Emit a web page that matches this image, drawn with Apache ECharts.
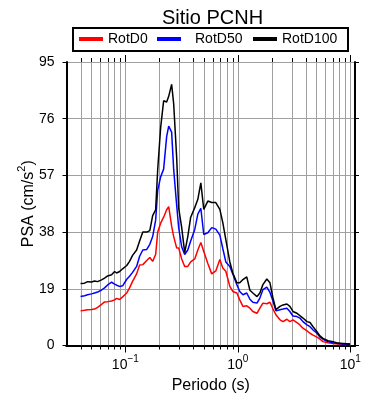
<!DOCTYPE html>
<html>
<head>
<meta charset="utf-8">
<script src="https://cdn.jsdelivr.net/npm/echarts@6/dist/echarts.min.js"></script>
<style>
  html, body { margin: 0; padding: 0; background: #fff; }
  #chart { width: 390px; height: 400px; }
</style>
</head>
<body>
<div id="chart"></div>
<script>
// periodos (s)
const periods = [0.040, 0.0434, 0.0462, 0.0501, 0.0533, 0.0567, 0.0615, 0.0654, 0.0696, 0.0755,
  0.0803, 0.0837, 0.0890, 0.0946, 0.103, 0.109, 0.116, 0.126, 0.134, 0.143,
  0.155, 0.165, 0.175, 0.186, 0.194, 0.206, 0.219, 0.233, 0.243, 0.258,
  0.269, 0.286, 0.298, 0.317, 0.337, 0.359, 0.381, 0.414, 0.441, 0.469,
  0.498, 0.541, 0.586, 0.637, 0.692, 0.735, 0.782, 0.849, 0.902, 0.980,
  1.04, 1.11, 1.20, 1.28, 1.36, 1.48, 1.57, 1.67, 1.81, 1.93,
  2.05, 2.18, 2.37, 2.52, 2.73, 2.90, 3.09, 3.35, 3.56, 3.79,
  4.12, 4.38, 4.66, 5.05, 5.37, 5.71, 6.33, 7.02, 7.78, 8.62,
  9.95];

const rotD0 = [11.6, 11.8, 12.0, 12.1, 12.2, 12.8, 13.8, 14.6, 14.7, 14.9,
  15.3, 15.8, 15.4, 16.3, 17.6, 19.3, 21.5, 24.0, 27.0, 27.1,
  28.5, 29.5, 28.2, 30.5, 38.0, 41.0, 43.0, 45.5, 46.5, 40.0,
  36.5, 32.7, 32.7, 29.0, 26.5, 26.5, 28.0, 29.0, 32.0, 34.5,
  31.5, 27.5, 24.0, 25.0, 28.8, 26.0, 24.9, 19.8, 18.1, 17.6,
  15.3, 13.1, 13.3, 12.5, 11.4, 10.8, 12.5, 14.2, 14.0, 14.5,
  12.3, 10.3, 8.6, 8.0, 8.8, 8.0, 8.6, 7.7, 6.9, 5.8,
  4.9, 4.1, 3.5, 2.8, 2.1, 1.3, 0.9, 0.7, 0.5, 0.4,
  0.3];

const rotD50 = [16.4, 16.7, 17.0, 17.3, 17.6, 17.9, 18.6, 19.3, 20.3, 21.2,
  20.6, 20.2, 19.8, 20.0, 22.2, 23.2, 24.5, 26.5, 29.9, 32.0,
  32.2, 33.9, 36.5, 42.0, 52.0, 56.5, 59.1, 70.0, 73.5, 71.5,
  59.0, 47.0, 39.5, 33.0, 30.5, 32.0, 35.0, 38.9, 44.0, 46.0,
  37.2, 37.8, 39.5, 39.0, 37.0, 32.5, 28.0, 26.5, 24.0, 20.4,
  18.1, 17.0, 17.6, 15.5, 14.5, 14.2, 15.9, 18.7, 19.6, 17.8,
  15.0, 11.6, 12.0, 12.2, 12.5, 11.4, 9.9, 9.7, 9.2, 8.0,
  6.9, 6.3, 5.2, 4.1, 2.8, 2.1, 1.3, 0.9, 0.7, 0.5,
  0.4];

const rotD100 = [20.8, 20.9, 21.4, 21.3, 21.6, 21.4, 22.0, 22.6, 23.3, 23.7,
  24.8, 24.3, 24.8, 25.7, 26.8, 28.2, 30.2, 32.0, 35.0, 38.0,
  38.0, 38.5, 43.5, 45.5, 59.0, 73.0, 82.0, 81.6, 83.5, 87.5,
  81.0, 63.0, 46.0, 39.5, 31.1, 36.5, 43.0, 46.2, 49.0, 54.5,
  45.6, 48.4, 47.9, 47.9, 45.6, 41.2, 35.5, 28.0, 24.3, 21.0,
  21.0, 22.1, 23.0, 18.5, 17.6, 16.4, 17.6, 20.4, 22.3, 21.0,
  16.0, 12.0, 13.1, 13.6, 13.9, 13.1, 11.4, 10.8, 10.0, 9.2,
  8.0, 7.7, 6.3, 4.6, 3.2, 2.4, 1.6, 1.3, 0.8, 0.7,
  0.5];

// lineas verticales de la grilla logaritmica
const gridX = [0.04, 0.05, 0.06, 0.07, 0.08, 0.09,
  0.1, 0.2, 0.3, 0.4, 0.5, 0.6, 0.7, 0.8, 0.9,
  1, 2, 3, 4, 5, 6, 7, 8, 9, 10];

const yTicks = [0, 19, 38, 57, 76, 95];

const FONT = 'Liberation Sans';

function isDecade(v) {
  const l = Math.log10(v);
  return Math.abs(l - Math.round(l)) < 1e-6;
}

function pairs(ys) {
  return periods.map((p, i) => [p, ys[i]]);
}

let chart = echarts.init(document.getElementById('chart'));

const legendBase = {
  top: 32,
  padding: 0,
  icon: 'rect',
  itemWidth: 24,
  itemHeight: 4,
  itemGap: 5,
  selectedMode: false,
  textStyle: { fontFamily: FONT, fontSize: 14, color: '#000' }
};

let option = {
  animation: false,
  backgroundColor: '#fff',
  title: {
    text: 'Sitio PCNH',
    left: 157,
    top: 3,
    textStyle: { fontFamily: FONT, fontSize: 20, fontWeight: 'normal', color: '#000' }
  },
  graphic: [{
    type: 'rect',
    z: -1,
    shape: { x: 73, y: 28, width: 275, height: 23 },
    style: { fill: '#fff', stroke: '#000', lineWidth: 2 }
  }],
  legend: [
    Object.assign({}, legendBase, { left: 79, data: ['RotD0'] }),
    Object.assign({}, legendBase, { left: 157, data: ['RotD50'], textStyle: { fontFamily: FONT, fontSize: 14, color: '#000', padding: [0, 0, 0, 9] } }),
    Object.assign({}, legendBase, { left: 253, data: ['RotD100'] })
  ],
  grid: { left: 66.5, right: 35, top: 62, bottom: 54.5 },
  xAxis: [{
    type: 'log',
    logBase: 10,
    min: 0.03,
    max: 11,
    position: 'bottom',
    name: 'Periodo (s)',
    nameLocation: 'middle',
    nameGap: 32,
    nameMoveOverlap: false,
    nameTextStyle: { fontFamily: FONT, fontSize: 16, color: '#000' },
    axisLine: { show: true, lineStyle: { color: '#000', width: 2 } },
    axisTick: { show: false },
    splitLine: { show: false },
    axisLabel: {
      margin: 9,
      showMinLabel: false,
      showMaxLabel: false,
      formatter: function (v) {
        if (!isDecade(v)) return '';
        const e = Math.round(Math.log10(v));
        return '{a|10}{s|' + (e < 0 ? '\u2212' + (-e) : e) + '}';
      },
      rich: {
        a: { fontFamily: FONT, fontSize: 14, color: '#000', lineHeight: 18, verticalAlign: 'bottom' },
        s: { fontFamily: FONT, fontSize: 10, color: '#000', lineHeight: 18, verticalAlign: 'top' }
      }
    }
  }, {
    type: 'log',
    logBase: 10,
    min: 0.03,
    max: 11,
    position: 'top',
    axisLine: { show: true, lineStyle: { color: '#000', width: 2 } },
    axisTick: { show: false },
    axisLabel: { show: false },
    splitLine: { show: false }
  }],
  yAxis: [{
    type: 'value',
    min: yTicks[0],
    max: yTicks[yTicks.length - 1],
    interval: 19,
    name: '{a|PSA (cm/s}{s|2}{a|)}',
    nameLocation: 'middle',
    nameGap: 30,
    nameMoveOverlap: false,
    nameRotate: 90,
    nameTextStyle: {
      rich: {
        a: { fontFamily: FONT, fontSize: 16, color: '#000', lineHeight: 20, verticalAlign: 'bottom' },
        s: { fontFamily: FONT, fontSize: 11, color: '#000', lineHeight: 20, verticalAlign: 'top' }
      }
    },
    axisLine: { show: true, lineStyle: { color: '#000', width: 2 } },
    axisTick: { show: true, inside: false, length: 4, lineStyle: { color: '#000' } },
    axisLabel: { margin: 12, fontFamily: FONT, fontSize: 14, color: '#000' },
    splitLine: { show: true, lineStyle: { color: '#a0a0a0', width: 1 } }
  }, {
    type: 'value',
    min: yTicks[0],
    max: yTicks[yTicks.length - 1],
    interval: 19,
    position: 'right',
    axisLine: { show: true, lineStyle: { color: '#000', width: 2 } },
    axisTick: { show: true, inside: false, length: 4, lineStyle: { color: '#000' } },
    axisLabel: { show: false },
    splitLine: { show: false }
  }],
  series: [
    {
      // grilla vertical y marcas de la escala log
      type: 'custom',
      name: 'grid',
      xAxisIndex: 0,
      yAxisIndex: 0,
      clip: false,
      silent: true,
      z: 1,
      data: gridX.map(v => [v, 0]),
      renderItem: function (params, api) {
        const v = api.value(0);
        const top = api.coord([v, yTicks[yTicks.length - 1]]);
        const bot = api.coord([v, yTicks[0]]);
        const len = isDecade(v) ? 7 : 4;
        const x = Math.round(top[0]) + 0.5;
        return {
          type: 'group',
          children: [
            { type: 'line', shape: { x1: x, y1: top[1], x2: x, y2: bot[1] }, style: { stroke: '#a0a0a0', lineWidth: 1 } },
            { type: 'line', shape: { x1: x, y1: bot[1], x2: x, y2: bot[1] + len }, style: { stroke: '#000', lineWidth: 1 } },
            { type: 'line', shape: { x1: x, y1: top[1] - len, x2: x, y2: top[1] }, style: { stroke: '#000', lineWidth: 1 } }
          ]
        };
      }
    },
    {
      name: 'RotD0', type: 'line', showSymbol: false, z: 3,
      lineStyle: { color: '#ff0000', width: 1.5 }, itemStyle: { color: '#ff0000' },
      data: pairs(rotD0)
    },
    {
      name: 'RotD50', type: 'line', showSymbol: false, z: 3,
      lineStyle: { color: '#0000ff', width: 1.5 }, itemStyle: { color: '#0000ff' },
      data: pairs(rotD50)
    },
    {
      name: 'RotD100', type: 'line', showSymbol: false, z: 3,
      lineStyle: { color: '#000000', width: 1.5 }, itemStyle: { color: '#000000' },
      data: pairs(rotD100)
    }
  ]
};

chart.setOption(option);
</script>
</body>
</html>
